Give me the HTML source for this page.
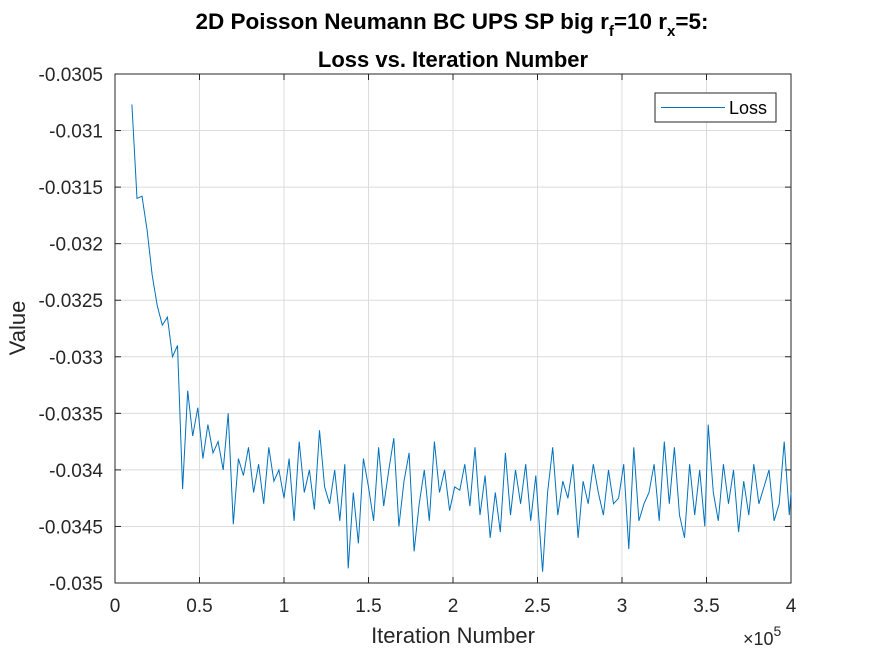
<!DOCTYPE html>
<html><head><meta charset="utf-8"><style>
body{margin:0;background:#fff;}
svg{display:block;font-family:"Liberation Sans",Arial,sans-serif;}
</style></head><body>
<svg id="c" width="875" height="656">
<rect width="875" height="656" fill="#fff"/>
<g id="grid"></g>
<g id="axes"></g>
<polyline id="line" fill="none" stroke="#0072BD" stroke-width="1"/>
<text x="452" y="29" text-anchor="middle" font-size="22.5" font-weight="bold" fill="#000">2D Poisson Neumann BC UPS SP big r<tspan font-size="15" dy="7">f</tspan><tspan dy="-7">=10 r</tspan><tspan font-size="15" dy="7">x</tspan><tspan dy="-7">=5:</tspan></text>
<text x="453" y="67" text-anchor="middle" font-size="22" font-weight="bold" fill="#000">Loss vs. Iteration Number</text>
<text x="453" y="643" text-anchor="middle" font-size="22" fill="#262626">Iteration Number</text>
<text x="743" y="645" font-size="18" fill="#262626">×10<tspan font-size="14" dy="-9">5</tspan></text>
<text transform="translate(25,328) rotate(-90)" text-anchor="middle" font-size="22" fill="#262626">Value</text>
<g>
<rect x="655" y="93" width="121" height="29" fill="#fff" stroke="#262626" stroke-width="1"/>
<line x1="661" y1="107.5" x2="725" y2="107.5" stroke="#0072BD" stroke-width="1"/>
<text x="729" y="114" font-size="18" fill="#000">Loss</text>
</g>
</svg>
<script>
const xTicks=[0,0.5,1,1.5,2,2.5,3,3.5,4];
const xTickLabels=["0","0.5","1","1.5","2","2.5","3","3.5","4"];
const yTicks=[-0.0305,-0.031,-0.0315,-0.032,-0.0325,-0.033,-0.0335,-0.034,-0.0345,-0.035];
const yTickLabels=["-0.0305","-0.031","-0.0315","-0.032","-0.0325","-0.033","-0.0335","-0.034","-0.0345","-0.035"];
const iters=[1.0,1.3,1.6,1.9,2.2,2.5,2.8,3.1,3.4,3.7,4.0,4.3,4.6,4.9,5.2,5.5,5.8,6.1,6.4,6.7,7.0,7.3,7.6,7.9,8.2,8.5,8.8,9.1,9.4,9.7,10.0,10.3,10.6,10.9,11.2,11.5,11.8,12.1,12.4,12.7,13.0,13.3,13.6,13.8,14.1,14.4,14.7,15.0,15.3,15.6,15.9,16.2,16.5,16.8,17.1,17.4,17.7,18.0,18.3,18.6,18.9,19.2,19.5,19.8,20.1,20.4,20.7,21.0,21.3,21.6,21.9,22.2,22.5,22.8,23.1,23.4,23.7,24.0,24.3,24.6,24.9,25.3,25.6,25.9,26.2,26.5,26.8,27.1,27.4,27.7,28.0,28.3,28.6,28.9,29.2,29.5,29.8,30.1,30.4,30.7,31.0,31.3,31.6,31.9,32.2,32.5,32.8,33.1,33.4,33.7,34.0,34.3,34.6,34.9,35.1,35.4,35.7,36.0,36.3,36.6,36.9,37.2,37.5,37.8,38.1,38.4,38.7,39.0,39.3,39.6,39.9,40.0];
const lossVals=[3077,3160,3158,3188,3228,3255,3272,3265,3300,3290,3417,3330,3370,3345,3390,3360,3385,3375,3400,3350,3448,3390,3405,3380,3420,3395,3430,3380,3410,3400,3425,3390,3445,3375,3420,3400,3435,3365,3415,3430,3400,3445,3395,3487,3420,3465,3390,3415,3445,3380,3432,3400,3372,3450,3410,3385,3472,3430,3400,3445,3375,3420,3400,3436,3415,3418,3395,3432,3380,3440,3405,3460,3420,3455,3385,3440,3400,3430,3395,3445,3405,3490,3420,3380,3440,3410,3425,3395,3460,3410,3430,3395,3420,3440,3400,3430,3425,3395,3470,3380,3445,3430,3420,3395,3445,3375,3430,3380,3440,3460,3395,3440,3400,3450,3360,3420,3445,3395,3430,3400,3455,3410,3440,3395,3430,3415,3400,3445,3430,3375,3440,3420];
const L=115,R=791,T=74,B=583;
const xs=v=>L+(v/4)*(R-L);
const ys=v=>T+(-0.0305-v)/0.0045*(B-T);
const NS="http://www.w3.org/2000/svg";
const grid=document.getElementById('grid'),axes=document.getElementById('axes');
function mk(tag,at,parent){const e=document.createElementNS(NS,tag);for(const k in at)e.setAttribute(k,at[k]);parent.appendChild(e);return e;}
xTicks.forEach((t,i)=>{const x=xs(t);
 if(i>0&&i<xTicks.length-1){const g=mk('line',{x1:x,y1:T,x2:x,y2:B,stroke:'#dcdcdc','stroke-width':1},grid);
 
 }
 mk('line',{x1:x,y1:B,x2:x,y2:B-6,stroke:'#262626'},axes);
 mk('line',{x1:x,y1:T,x2:x,y2:T+6,stroke:'#262626'},axes);
 const tx=mk('text',{x:x,y:B+29,'text-anchor':'middle','font-size':19,fill:'#262626'},axes);tx.textContent=xTickLabels[i];
 
 });
yTicks.forEach((t,i)=>{const y=ys(t);
 if(i>0&&i<yTicks.length-1){const g=mk('line',{x1:L,y1:y,x2:R,y2:y,stroke:'#dcdcdc','stroke-width':1},grid);
 
 }
 mk('line',{x1:L,y1:y,x2:L+6,y2:y,stroke:'#262626'},axes);
 mk('line',{x1:R,y1:y,x2:R-6,y2:y,stroke:'#262626'},axes);
 const tx=mk('text',{x:L-12,y:y+7,'text-anchor':'end','font-size':19,fill:'#262626'},axes);tx.textContent=yTickLabels[i];
 
 });
mk('rect',{x:L,y:T,width:R-L,height:B-T,fill:'none',stroke:'#262626','stroke-width':1},axes);
document.getElementById('line').setAttribute('points',iters.map((v,i)=>xs(v/10).toFixed(1)+','+ys(-lossVals[i]*1e-5).toFixed(1)).join(' '));
</script>
</body></html>
